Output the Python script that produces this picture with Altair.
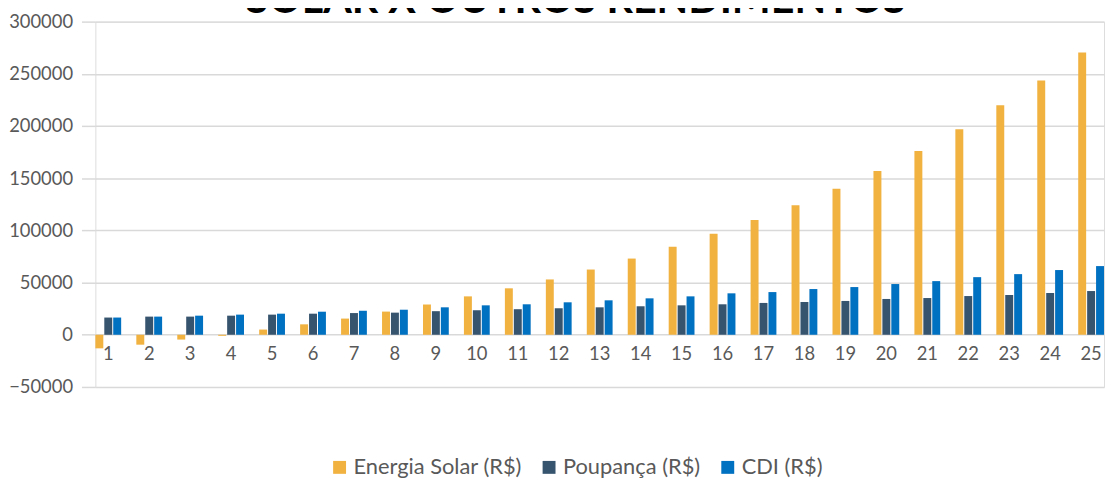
import altair as alt
import pandas as pd

years = [str(i) for i in range(1, 26)]
series = ["Energia Solar (R$)", "Poupança (R$)", "CDI (R$)"]
colors = ["#F1B240", "#37546E", "#0070C0"]
title_text = ["SOLAR X OUTROS RENDIMENTOS"]

solar = [-13000, -9500, -4600, -1000, 5000, 10000, 15500, 22200, 29000, 36800,
         44500, 53000, 62500, 73000, 84400, 96800, 110000, 124000, 140000, 157000,
         176000, 197000, 220000, 243500, 270500]
poupanca = [16500, 17400, 17400, 18300, 19300, 20200, 20800, 21200, 22600, 23500,
            24500, 25400, 26300, 27300, 28200, 29200, 30500, 31400, 32400, 34300,
            35200, 37100, 38100, 40000, 41900]
cdi = [16500, 17400, 18300, 19300, 20200, 22100, 23000, 24000, 26300, 28200,
       29200, 31100, 33000, 34900, 36800, 39700, 40900, 43800, 45700, 48600,
       51400, 55200, 58100, 62000, 65800]
y_ticks = [-50000, 0, 50000, 100000, 150000, 200000, 250000, 300000]

rows = []
for i, ano in enumerate(years):
    for s, vals in zip(series, [solar, poupanca, cdi]):
        rows.append({"ano": ano, "serie": s, "valor": vals[i]})
df = pd.DataFrame(rows)
labels_df = pd.DataFrame({"ano": years, "zero": [0] * len(years)})
title_df = pd.DataFrame({"t": title_text})

xscale = alt.Scale(domain=years, paddingInner=0.37, paddingOuter=0)
yscale = alt.Scale(domain=[-50000, 300000], nice=False)
yaxis = alt.Axis(values=y_ticks, format="d", title=None, domain=False,
                 ticks=True, tickSize=14, tickColor="#D9D9D9", tickWidth=1.5,
                 grid=True, gridColor="#D9D9D9", gridWidth=1.5,
                 labelColor="#595959", labelFont="Lato", labelFontSize=18.5,
                 labelPadding=9)

bars = alt.Chart(df).mark_bar().encode(
    x=alt.X("ano:N", scale=xscale, axis=None, sort=years),
    xOffset=alt.XOffset("serie:N", sort=series, scale=alt.Scale(paddingInner=0.11)),
    y=alt.Y("valor:Q", scale=yscale, axis=yaxis, stack=None),
    color=alt.Color("serie:N", sort=series,
                    scale=alt.Scale(domain=series, range=colors),
                    legend=alt.Legend(title=None, orient="none", legendX=235, legendY=438,
                                      direction="horizontal", symbolType="square",
                                      symbolSize=169, symbolStrokeWidth=0,
                                      labelFont="Lato", labelFontSize=22,
                                      labelLimit=400,
                                      labelColor="#595959", labelOffset=3,
                                      columnPadding=16, padding=0)),
)

xlabels = alt.Chart(labels_df).mark_text(
    font="Lato", fontSize=18.5, color="#595959", baseline="alphabetic", dy=25.5
).encode(
    x=alt.X("ano:N", scale=xscale, axis=None, sort=years),
    y=alt.Y("zero:Q", scale=yscale, axis=yaxis),
    text="ano:N",
)

title = alt.Chart(title_df).mark_text(
    font="Lato", fontSize=41.5, fontWeight="bold", color="#000000",
    align="center", baseline="alphabetic"
).encode(
    text="t:N",
    x=alt.value(484),
    y=alt.value(-9),
)

chart = alt.layer(bars, xlabels, title).properties(
    width=1016,
    height=368,
    autosize=alt.AutoSizeParams(type="none"),
    padding={"left": 88, "top": 12, "right": 2, "bottom": 93},
).configure_view(stroke=None).configure(background="white")

chart.save("out.html", embed_options={"renderer": "svg", "actions": False})
